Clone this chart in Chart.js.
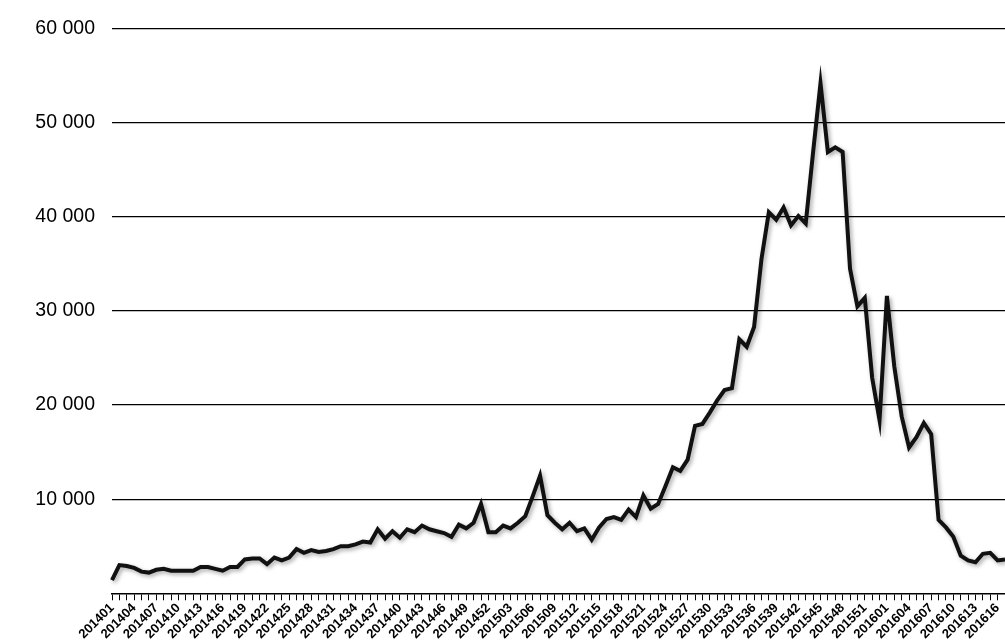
<!DOCTYPE html>
<html>
<head>
<meta charset="utf-8">
<script src="https://cdn.jsdelivr.net/npm/chart.js@4/dist/chart.umd.min.js"></script>
<style>
  html, body { margin: 0; padding: 0; background: #fff; }
  #wrap { width: 1005px; height: 642px; }
</style>
</head>
<body>
<div id="wrap"><canvas id="c"></canvas></div>
<script>
// weekly counts, 201401 .. 201618
const weeks2014 = 52, weeks2015 = 53, weeks2016 = 18;
const values = [
  1400, 3000, 2900, 2700, 2300, 2200, 2500, 2600, 2400, 2400,
  2400, 2400, 2800, 2800, 2600, 2400, 2800, 2800, 3600, 3700,
  3700, 3100, 3800, 3500, 3800, 4700, 4300, 4600, 4400, 4500,
  4700, 5000, 5000, 5200, 5500, 5400, 6800, 5800, 6600, 5900,
  6800, 6500, 7200, 6800, 6600, 6400, 6000, 7300, 6900, 7500,
  9500, 6500, 6500, 7200, 6900, 7500, 8200, 10300, 12500, 8300,
  7500, 6800, 7500, 6600, 6900, 5700, 7000, 7900, 8100, 7800,
  8900, 8100, 10400, 9000, 9500, 11400, 13400, 13000, 14200, 17800,
  18000, 19200, 20500, 21600, 21800, 27000, 26200, 28300, 35500, 40500,
  39700, 41000, 39100, 40100, 39300, 46900, 54200, 46900, 47400, 46900,
  34500, 30500, 31400, 22900, 18400, 31600, 24100, 18800, 15500, 16600,
  18100, 16900, 7800, 7000, 6000, 4000, 3500, 3300, 4200, 4300,
  3500, 3600
];
const labels = [];
[[2014, weeks2014], [2015, weeks2015], [2016, weeks2016]].forEach(([y, n]) => {
  for (let w = 1; w <= n; w++) labels.push(y + String(w).padStart(2, '0'));
});
labels.length = values.length;
const yTicks = [10000, 20000, 30000, 40000, 50000, 60000];

function fmt(v){ return String(v).replace(/\B(?=(\d{3})+(?!\d))/g, ' '); }

const shadow = {
  id: 'shadow',
  beforeDatasetDraw(chart){ const c = chart.ctx; c.save(); c.shadowColor='rgba(0,0,0,0.35)'; c.shadowBlur=4; c.shadowOffsetX=2; c.shadowOffsetY=2; },
  afterDatasetDraw(chart){ chart.ctx.restore(); }
};

new Chart(document.getElementById('c'), {
  type: 'line',
  data: { labels: labels, datasets: [{ data: values, borderColor: '#111', borderWidth: 4, pointRadius: 0, tension: 0, fill: false }] },
  options: {
    responsive: true, maintainAspectRatio: false, animation: false,
    layout: { padding: { left: 8, right: 0, top: 16, bottom: 0 } },
    plugins: { legend: { display: false }, tooltip: { enabled: false } },
    scales: {
      x: {
        offset: false,
        afterFit: s => { s.paddingRight = 0; },
        grid: { drawOnChartArea: false, drawTicks: true, tickLength: 7, color: '#000' },
        border: { color: '#000', width: 1.5 },
        ticks: {
          autoSkip: false, maxRotation: 45, minRotation: 45, color: '#000', padding: 0,
          font: { family: 'Liberation Sans, Arial', size: 13, weight: 'bold' },
          callback: (v, i) => i % 3 === 0 ? labels[i] : ''
        }
      },
      y: {
        min: 0, max: 60000,
        afterBuildTicks: s => { s.ticks = [0].concat(yTicks).map(v => ({ value: v })); },
        afterFit: s => { s.width = 104; },
        grid: { color: c => c.tick && c.tick.value === 0 ? 'rgba(0,0,0,0)' : '#000', lineWidth: 1.2, drawTicks: false },
        border: { display: false },
        ticks: {
          color: '#000', padding: 17,
          font: { family: 'Liberation Sans, Arial', size: 19.5 },
          callback: v => v === 0 ? '' : fmt(v)
        }
      }
    }
  },
  plugins: [shadow]
});
</script>
</body>
</html>
